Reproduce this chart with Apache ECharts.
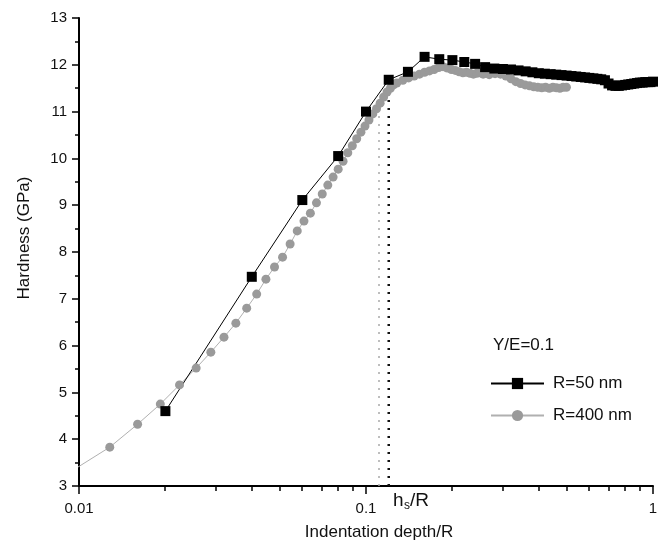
<!DOCTYPE html>
<html>
<head>
<meta charset="utf-8">
<script src="https://cdn.jsdelivr.net/npm/echarts@6/dist/echarts.min.js"></script>
<style>
  html, body { margin: 0; padding: 0; background: #fff; }
  #chart { width: 664px; height: 543px; }
</style>
</head>
<body>
<div id="chart"></div>
<script>
// R=50 nm (black squares)
const blackX = [0.02, 0.04, 0.06, 0.08, 0.10, 0.12, 0.14, 0.16, 0.18, 0.20,
  0.22, 0.24, 0.26, 0.28, 0.30, 0.32, 0.34, 0.36, 0.38, 0.40,
  0.42, 0.44, 0.46, 0.48, 0.50, 0.52, 0.54, 0.56, 0.58, 0.60,
  0.62, 0.64, 0.66, 0.68, 0.70, 0.72, 0.74, 0.76, 0.78, 0.80,
  0.82, 0.84, 0.86, 0.88, 0.90, 0.92, 0.94, 0.96, 0.98, 1.00];
const blackY = [4.60, 7.47, 9.11, 10.05, 11.00, 11.68, 11.85, 12.17, 12.12, 12.10,
  12.06, 12.02, 11.95, 11.92, 11.91, 11.90, 11.88, 11.86, 11.84, 11.82,
  11.81, 11.80, 11.79, 11.78, 11.77, 11.76, 11.75, 11.74, 11.73, 11.72,
  11.71, 11.70, 11.69, 11.67, 11.60, 11.56, 11.55, 11.55, 11.56, 11.57,
  11.58, 11.59, 11.60, 11.61, 11.62, 11.62, 11.63, 11.63, 11.63, 11.64];

// R=400 nm (grey circles)
const greyX = [0.0096, 0.0128, 0.016, 0.0192, 0.0224, 0.0256, 0.0288, 0.032, 0.0352, 0.0384,
  0.0416, 0.0448, 0.048, 0.0512, 0.0544, 0.0576, 0.0608, 0.064, 0.0672, 0.0704,
  0.0736, 0.0768, 0.08, 0.0832, 0.0864, 0.0896, 0.0928, 0.096, 0.0992, 0.1024,
  0.1056, 0.1088, 0.112, 0.1152, 0.1184, 0.1216, 0.1248, 0.128,
  0.1344, 0.1408, 0.1472, 0.1536, 0.16, 0.1664, 0.1728, 0.1792, 0.1856, 0.192,
  0.1984, 0.2048, 0.2112, 0.2176, 0.224, 0.2304, 0.2368, 0.2432, 0.2496, 0.256,
  0.2688, 0.2816, 0.2944, 0.3072, 0.32, 0.3328, 0.3456, 0.3584, 0.3712, 0.384,
  0.3968, 0.4096, 0.4224, 0.4352, 0.448, 0.4608, 0.4736, 0.4864, 0.4992];
const greyY = [3.35, 3.83, 4.32, 4.75, 5.16, 5.52, 5.86, 6.18, 6.48, 6.80,
  7.10, 7.42, 7.68, 7.89, 8.17, 8.45, 8.66, 8.83, 9.05, 9.24,
  9.43, 9.60, 9.77, 9.94, 10.12, 10.27, 10.42, 10.56, 10.69, 10.82,
  10.95, 11.06, 11.18, 11.31, 11.42, 11.50, 11.57, 11.61,
  11.67, 11.72, 11.76, 11.80, 11.84, 11.87, 11.90, 11.94, 11.96, 11.93,
  11.90, 11.88, 11.85, 11.83, 11.84, 11.82, 11.80, 11.82, 11.83, 11.80,
  11.79, 11.81, 11.80, 11.76, 11.70, 11.64, 11.60, 11.57, 11.55, 11.53,
  11.52, 11.51, 11.52, 11.50, 11.52, 11.51, 11.50, 11.52, 11.52];

// hs/R markers: [x, top of the dotted line]
const hsGrey = [0.111, 11.0];
const hsBlack = [0.12, 11.45];

// x-axis ticks: [value, length in px]
const xTicks = [[0.01, 7], [0.02, 4], [0.03, 4], [0.04, 4], [0.05, 4], [0.06, 4], [0.07, 4], [0.08, 4], [0.09, 4],
  [0.1, 7], [0.2, 4], [0.3, 4], [0.4, 4], [0.5, 4], [0.6, 4], [0.7, 4], [0.8, 4], [0.9, 4], [1, 7]];
const xLabels = [0.01, 0.1, 1];

const font = "'Liberation Sans', Arial, sans-serif";
const ink = '#111';
const pairs = (xs, ys) => xs.map((x, i) => [x, ys[i]]);

const chart = echarts.init(document.getElementById('chart'));

chart.setOption({
  animation: false,
  textStyle: { fontFamily: font },
  grid: { left: 79, right: 11, top: 18, bottom: 57 },
  xAxis: {
    type: 'log',
    logBase: 10,
    min: 0.01,
    max: 1,
    axisLine: { lineStyle: { color: '#000', width: 2 } },
    axisTick: { show: false },
    axisLabel: {
      margin: 15, fontSize: 15, color: ink, fontFamily: font,
      formatter: v => (xLabels.includes(+(+v).toPrecision(3)) ? String(+(+v).toPrecision(3)) : '')
    },
    splitLine: { show: false }
  },
  yAxis: {
    type: 'value',
    min: 3,
    max: 13,
    interval: 1,
    axisLine: { show: true, lineStyle: { color: '#000', width: 2 } },
    axisTick: { show: true, length: 7, lineStyle: { color: '#000', width: 1.5 } },
    minorTick: { show: true, splitNumber: 2, length: 4, lineStyle: { color: '#000', width: 1.5 } },
    axisLabel: { margin: 12, fontSize: 15, color: ink, fontFamily: font },
    splitLine: { show: false }
  },
  legend: {
    orient: 'vertical',
    left: 485,
    top: 370,
    itemWidth: 53,
    itemHeight: 14,
    itemGap: 15,
    data: ['R=50 nm', 'R=400 nm'],
    textStyle: { fontSize: 17, color: ink, fontFamily: font, padding: [0, 0, 0, 4] }
  },
  graphic: [
    { type: 'text', left: 493, top: 337, style: { text: 'Y/E=0.1', font: '17px ' + font, fill: ink } },
    { type: 'text', x: 24, y: 238, rotation: Math.PI / 2,
      style: { text: 'Hardness (GPa)', font: '17px ' + font, fill: ink, align: 'center', verticalAlign: 'middle' } },
    { type: 'text', x: 379, y: 532,
      style: { text: 'Indentation depth/R', font: '17px ' + font, fill: ink, align: 'center', verticalAlign: 'middle' } },
    { type: 'text', x: 393, y: 501, style: { text: 'h', font: '19px ' + font, fill: ink, verticalAlign: 'middle' } },
    { type: 'text', x: 404, y: 506, style: { text: 's', font: '12px ' + font, fill: ink, verticalAlign: 'middle' } },
    { type: 'text', x: 410, y: 501, style: { text: '/R', font: '19px ' + font, fill: ink, verticalAlign: 'middle' } }
  ],
  series: [
    {
      name: 'hsGrey',
      type: 'line',
      symbol: 'none',
      silent: true,
      lineStyle: { color: '#a8a8a8', width: 1.5, type: [2, 6] },
      data: [[hsGrey[0], 3], hsGrey]
    },
    {
      name: 'hsBlack',
      type: 'line',
      symbol: 'none',
      silent: true,
      lineStyle: { color: '#111', width: 2.5, type: [2, 6] },
      data: [[hsBlack[0], 3], hsBlack]
    },
    {
      name: 'xTicks',
      type: 'custom',
      silent: true,
      clip: false,
      z: 10,
      data: xTicks.map(([v, len]) => [v, 3, len]),
      renderItem: (params, api) => {
        const p = api.coord([api.value(0), api.value(1)]);
        const len = api.value(2);
        return {
          type: 'rect',
          shape: { x: Math.round(p[0]) - 0.75, y: p[1], width: 1.5, height: len + 1 },
          style: { fill: '#000' }
        };
      }
    },
    {
      name: 'R=400 nm',
      type: 'line',
      clip: true,
      symbol: 'circle',
      symbolSize: 9,
      showAllSymbol: true,
      itemStyle: { color: '#9a9a9a' },
      lineStyle: { color: '#b0b0b0', width: 1 },
      data: pairs(greyX, greyY)
    },
    {
      name: 'R=50 nm',
      type: 'line',
      clip: true,
      symbol: 'rect',
      symbolSize: 10,
      showAllSymbol: true,
      itemStyle: { color: '#000' },
      lineStyle: { color: '#000', width: 1 },
      data: pairs(blackX, blackY)
    }
  ]
});
</script>
</body>
</html>
